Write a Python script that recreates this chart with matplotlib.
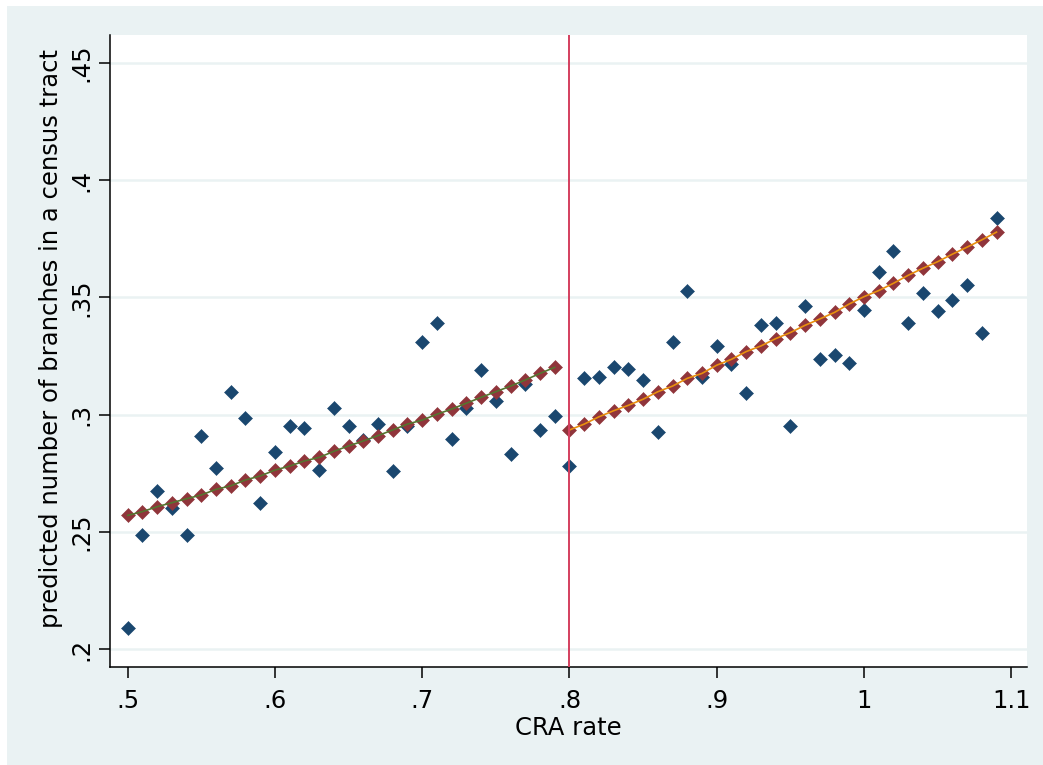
import numpy as np
import matplotlib
matplotlib.use("Agg")
import matplotlib.pyplot as plt
from matplotlib.patches import Rectangle

# CRA rate bins (scatter) and the binned means
cra_rate = [0.50, 0.51, 0.52, 0.53, 0.54, 0.55, 0.56, 0.57, 0.58, 0.59,
            0.60, 0.61, 0.62, 0.63, 0.64, 0.65, 0.66, 0.67, 0.68, 0.69,
            0.70, 0.71, 0.72, 0.73, 0.74, 0.75, 0.76, 0.77, 0.78, 0.79,
            0.80, 0.81, 0.82, 0.83, 0.84, 0.85, 0.86, 0.87, 0.88, 0.89,
            0.90, 0.91, 0.92, 0.93, 0.94, 0.95, 0.96, 0.97, 0.98, 0.99,
            1.00, 1.01, 1.02, 1.03, 1.04, 1.05, 1.06, 1.07, 1.08, 1.09]
branches = [0.2091, 0.2487, 0.2675, 0.2602, 0.2487, 0.2909, 0.2773, 0.3097, 0.2986, 0.2624,
            0.2841, 0.2952, 0.2943, 0.2765, 0.3029, 0.2952, 0.2892, 0.2961, 0.2760, 0.2952,
            0.3310, 0.3391, 0.2897, 0.3029, 0.3191, 0.3059, 0.2833, 0.3131, 0.2935, 0.2995,
            0.2781, 0.3155, 0.3162, 0.3202, 0.3195, 0.3150, 0.2926, 0.3310, 0.3527, 0.3162,
            0.3293, 0.3218, 0.3091, 0.3382, 0.3391, 0.2952, 0.3462, 0.3239, 0.3253, 0.3220,
            0.3446, 0.3610, 0.3697, 0.3389, 0.3519, 0.3440, 0.3487, 0.3552, 0.3349, 0.3837]

# fitted values, below and above the 0.8 cutoff
fit_left = [0.2571, 0.2587, 0.2608, 0.2625, 0.2642, 0.2658, 0.2682, 0.2697, 0.2722, 0.2739,
            0.2764, 0.2781, 0.2803, 0.2818, 0.2844, 0.2867, 0.2888, 0.2911, 0.2935, 0.2960,
            0.2977, 0.3002, 0.3024, 0.3049, 0.3074, 0.3098, 0.3122, 0.3148, 0.3176, 0.3202]
fit_right = [0.2935, 0.2960, 0.2991, 0.3017, 0.3040, 0.3066, 0.3098, 0.3122, 0.3155, 0.3176,
             0.3211, 0.3236, 0.3269, 0.3293, 0.3324, 0.3350, 0.3381, 0.3408, 0.3436, 0.3472,
             0.3503, 0.3529, 0.3560, 0.3594, 0.3624, 0.3652, 0.3684, 0.3714, 0.3745, 0.3778]
cutoff = 0.8

xticks = [0.5, 0.6, 0.7, 0.8, 0.9, 1.0, 1.1]
xtick_labels = [".5", ".6", ".7", ".8", ".9", "1", "1.1"]
yticks = [0.2, 0.25, 0.3, 0.35, 0.4, 0.45]
ytick_labels = [".2", ".25", ".3", ".35", ".4", ".45"]

plt.rcParams['font.family'] = ['DejaVu Sans']
FS = 17.5
W, H = 1043, 765

fig = plt.figure(figsize=(W / 100, H / 100), dpi=100, facecolor="white")
# Stata graph region colour
bg = Rectangle((7 / W, 0), 1 - 7 / W, (H - 6) / H, transform=fig.transFigure,
               facecolor="#eaf2f3", edgecolor="none", zorder=-10)
fig.add_artist(bg)

ax = fig.add_axes([110 / W, (H - 667) / H, (1027 - 110) / W, (667 - 35) / H])
ax.set_facecolor("white")

x = np.array(cra_rate)
n_left = len(fit_left)
MS = 6.8

ax.plot(x, branches, linestyle="none", marker="D", markersize=MS,
        color="#1a476f", markeredgewidth=0.4, zorder=3)
ax.plot(x[:n_left], fit_left, linestyle="none", marker="D", markersize=MS,
        color="#90353b", markeredgewidth=0.4, zorder=4)
ax.plot(x[n_left:], fit_right, linestyle="none", marker="D", markersize=MS,
        color="#90353b", markeredgewidth=0.4, zorder=4)
ax.plot(x[:n_left], fit_left, color="#55752f", linewidth=1.2, zorder=5)
ax.plot(x[n_left:], fit_right, color="#e8900e", linewidth=1.2, zorder=5)

ax.axvline(cutoff, color="#d43f5e", linewidth=1.4, zorder=6)

ax.set_xlim(0.488, 1.1107)
ax.set_ylim(0.1925, 0.4618)

ax.set_xticks(xticks)
ax.set_xticklabels(xtick_labels, fontsize=FS)
ax.set_yticks(yticks)
ax.set_yticklabels(ytick_labels, fontsize=FS, rotation=90, va="center")
ax.tick_params(axis="x", length=8, width=1.1, pad=8)
ax.tick_params(axis="y", length=8, width=1.1, pad=4)

ax.yaxis.grid(True, color="#eaf2f3", linewidth=1.8)
ax.set_axisbelow(True)

for side in ["top", "right"]:
    ax.spines[side].set_visible(False)
for side in ["left", "bottom"]:
    ax.spines[side].set_linewidth(1.1)

ax.set_xlabel("CRA rate", fontsize=FS)
ax.xaxis.set_label_coords(0.5, -0.077)
ax.set_ylabel("predicted number of branches in a census tract", fontsize=FS)
ax.yaxis.set_label_coords(-0.0513, 0.52)

fig.savefig("out.png", dpi=100, facecolor=fig.get_facecolor())
